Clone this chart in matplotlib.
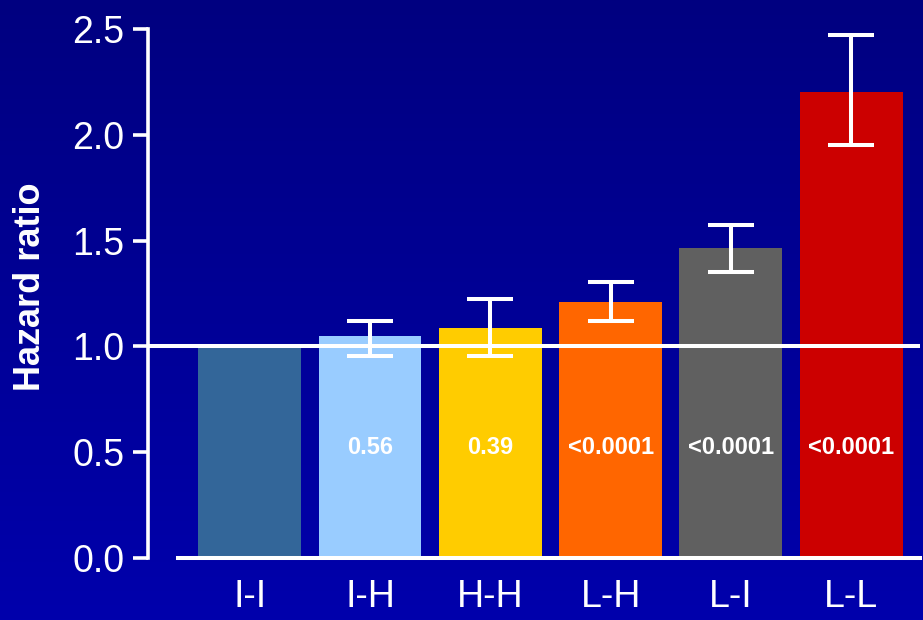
import matplotlib

matplotlib.use("Agg")
import matplotlib.pyplot as plt
import numpy as np
from matplotlib.colors import LinearSegmentedColormap

plt.rcParams["font.family"] = ["Liberation Sans", "DejaVu Sans"]

# Hazard ratios with 95% CI by group (reference group I-I has no CI)
groups = ["I-I", "I-H", "H-H", "L-H", "L-I", "L-L"]
hazard_ratio = [1.00, 1.05, 1.085, 1.21, 1.465, 2.20]
ci_low = [np.nan, 0.955, 0.955, 1.12, 1.35, 1.95]
ci_high = [np.nan, 1.12, 1.225, 1.305, 1.575, 2.47]
p_values = ["", "0.56", "0.39", "<0.0001", "<0.0001", "<0.0001"]
bar_colors = ["#336699", "#99CCFF", "#FFCC00", "#FF6600", "#606060", "#CC0000"]
y_ticks = [0.0, 0.5, 1.0, 1.5, 2.0, 2.5]

W, H = 923, 620
fig = plt.figure(figsize=(W / 100, H / 100), dpi=100)

# vertical navy gradient background
bg = fig.add_axes([0, 0, 1, 1])
cmap = LinearSegmentedColormap.from_list("navy", ["#0000AC", "#000080"])
bg.imshow(np.linspace(0, 1, 256).reshape(-1, 1), aspect="auto", cmap=cmap,
          origin="lower", extent=[0, 1, 0, 1])
bg.axis("off")
bg.set_zorder(0)

left_px, right_px, top_px, bottom_px = 148, 920, 29, 558
ax = fig.add_axes([left_px / W, 1 - bottom_px / H,
                   (right_px - left_px) / W, (bottom_px - top_px) / H])
ax.set_zorder(1)
ax.patch.set_alpha(0)

x = np.arange(len(groups))
step = 120.3
ax.set_xlim((left_px - 249.7) / step, (left_px - 249.7) / step + (right_px - left_px) / step)
ax.set_ylim(0, 2.5)

ax.bar(x, hazard_ratio, width=0.855, color=bar_colors, zorder=2)

hr = np.array(hazard_ratio)
lo = np.array(ci_low)
hi = np.array(ci_high)
has_ci = ~np.isnan(lo)
ax.errorbar(x[has_ci], hr[has_ci], yerr=[hr[has_ci] - lo[has_ci], hi[has_ci] - hr[has_ci]],
            fmt="none", ecolor="white", elinewidth=2.9, capsize=16.5, capthick=2.9,
            zorder=5)

# reference line at HR = 1 and baseline
ax.axhline(1.0, xmin=0.003, xmax=1, color="white", linewidth=2.9, zorder=4)
ax.axhline(0.0, xmin=30 / (right_px - left_px), xmax=1, color="white",
           linewidth=2.9, zorder=4, clip_on=False)

for xi, p in zip(x, p_values):
    if p:
        ax.text(xi, 0.52, p, ha="center", va="center", color="white",
                fontsize=17, fontweight="bold", zorder=6)

for side in ("top", "right", "bottom"):
    ax.spines[side].set_visible(False)
ax.spines["left"].set_color("white")
ax.spines["left"].set_linewidth(2.6)
ax.spines["left"].set_bounds(0, 2.5)

ax.set_yticks(y_ticks)
ax.set_yticklabels([f"{t:.1f}" for t in y_ticks])
ax.tick_params(axis="y", colors="white", labelsize=27, length=11, width=2.6, pad=6)
ax.set_xticks(x)
ax.set_xticklabels(groups)
ax.tick_params(axis="x", colors="white", labelsize=27, length=0, pad=15)

fig.text(31 / W, 1 - 287 / H, "Hazard ratio", rotation=90, ha="center", va="center",
         color="white", fontsize=26, fontweight="bold")

fig.savefig("out.png", dpi=100)
